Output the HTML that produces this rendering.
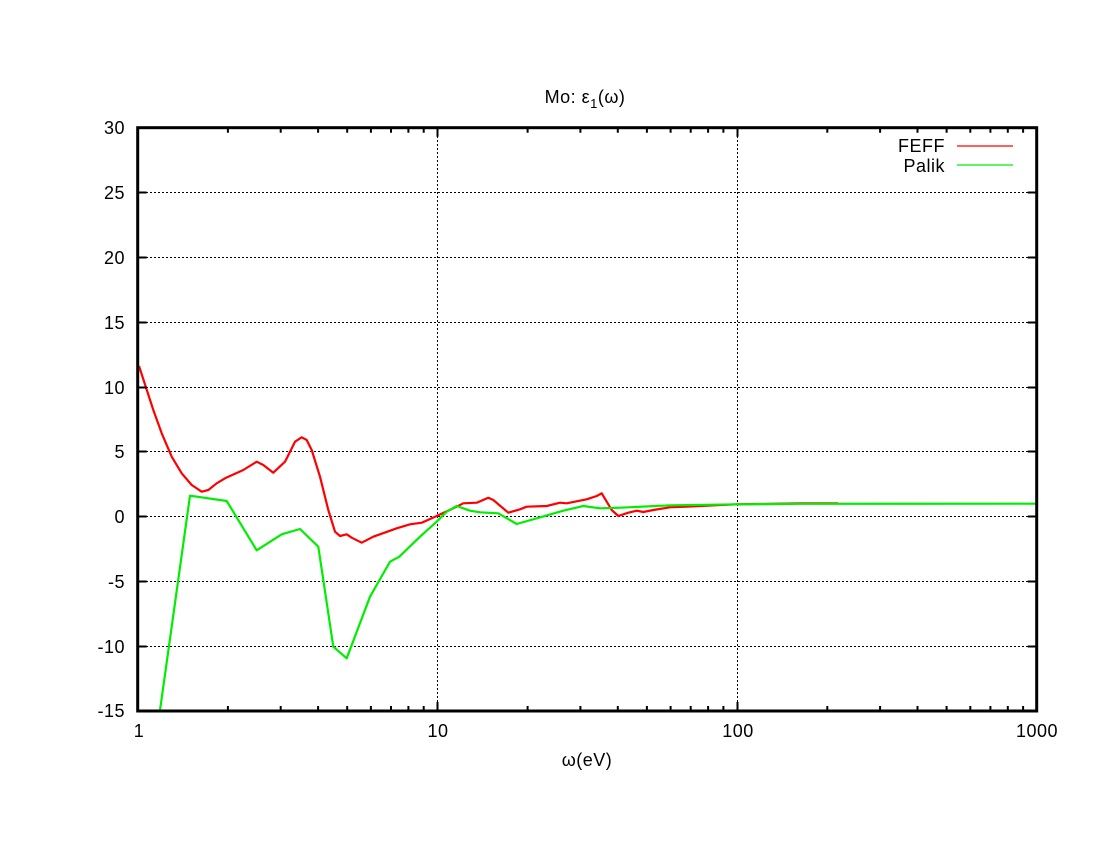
<!DOCTYPE html>
<html><head><meta charset="utf-8"><style>
html,body{margin:0;padding:0;background:#fff;}
svg{display:block;}
text{font-family:"Liberation Sans",Arial,sans-serif;font-size:18px;letter-spacing:0.5px;fill:#000;}
</style></head><body>
<svg width="1100" height="850" viewBox="0 0 1100 850" xmlns="http://www.w3.org/2000/svg">
<defs><clipPath id="pc"><rect x="137.7" y="127.7" width="899" height="583.3"/></clipPath></defs>
<rect width="1100" height="850" fill="#fff"/>
<!-- grid -->
<g stroke="#000" stroke-width="1" stroke-dasharray="2,2" fill="none">
<line x1="146" y1="192.5" x2="1028" y2="192.5"/>
<line x1="146" y1="257.5" x2="1028" y2="257.5"/>
<line x1="146" y1="322.5" x2="1028" y2="322.5"/>
<line x1="146" y1="387.5" x2="1028" y2="387.5"/>
<line x1="146" y1="451.5" x2="1028" y2="451.5"/>
<line x1="146" y1="516.5" x2="1028" y2="516.5"/>
<line x1="146" y1="581.5" x2="1028" y2="581.5"/>
<line x1="146" y1="646.5" x2="1028" y2="646.5"/>
<line x1="437.5" y1="136" x2="437.5" y2="702"/>
<line x1="737.5" y1="136" x2="737.5" y2="702"/>
</g>
<!-- curves -->
<g clip-path="url(#pc)" fill="none" stroke-width="2.2" stroke-linejoin="round">
<polyline stroke="#ff0000" points="139,366 153.3,410 161.7,433.3 171.7,456.7 181.7,473.3 191.7,485 201.7,491.7 208.3,490 216.7,483.3 225,478.3 243.3,470 256.7,461.7 263.3,465 273.3,472.7 285,461.7 295,441.7 301.7,437.3 306.7,440 311.7,450 320,476.7 328.3,510 335,531.7 340,536 346.7,534.3 351.7,537.7 361.7,542.7 373.3,536.7 396.7,528.3 410,524.3 421.7,522.7 436.7,516 453.3,508.3 463.3,503.3 476.7,502.7 488.3,497.7 493.3,500 508.3,512.7 520,509.3 526.7,506.7 546.7,506 560,502.7 566.7,503.3 586.7,499.3 596.7,496 601.7,493.3 611.7,510 618.3,516 628.3,512.7 636.7,510.7 643.3,512 653.3,510 670,507.3 686.7,506.7 720,505 737,504.3 760,504 800,503.4 838,503.3"/>
<polyline stroke="#00ee00" points="155,746 190,495.7 226.7,501 256.7,550.3 281.7,534.3 300,529 318.3,546.7 333.3,646.7 346.7,658.3 370,596.7 390,561.7 399.3,556.7 420,536.7 436.7,521.7 446.7,511.7 456.7,506 470,510.7 480,512.3 498.3,513.3 516.7,524 536.7,518.3 563.3,510.7 583.3,506 600,508.3 620,507.7 670,505.3 740,504.3 800,503.8 1036,503.7"/>
</g>
<!-- ticks -->
<g stroke="#000" stroke-width="2" fill="none">
<path d="M137.7,192.5h9M137.7,257.5h9M137.7,322.5h9M137.7,387.5h9M137.7,451.5h9M137.7,516.5h9M137.7,581.5h9M137.7,646.5h9"/>
<path d="M1036.7,192.5h-9M1036.7,257.5h-9M1036.7,322.5h-9M1036.7,387.5h-9M1036.7,451.5h-9M1036.7,516.5h-9M1036.7,581.5h-9M1036.7,646.5h-9"/>
<path d="M437.5,711v-9M737.5,711v-9M437.5,127.7v9M737.5,127.7v9"/>
<path d="M227.9,711v-5M280.7,711v-5M318.1,711v-5M347.2,711v-5M370.9,711v-5M391,711v-5M408.4,711v-5M423.7,711v-5
M527.6,711v-5M580.4,711v-5M617.8,711v-5M646.9,711v-5M670.6,711v-5M690.7,711v-5M708.1,711v-5M723.4,711v-5
M827.3,711v-5M880.1,711v-5M917.5,711v-5M946.6,711v-5M970.3,711v-5M990.4,711v-5M1007.8,711v-5M1023.1,711v-5"/>
<path d="M227.9,127.7v5M280.7,127.7v5M318.1,127.7v5M347.2,127.7v5M370.9,127.7v5M391,127.7v5M408.4,127.7v5M423.7,127.7v5
M527.6,127.7v5M580.4,127.7v5M617.8,127.7v5M646.9,127.7v5M670.6,127.7v5M690.7,127.7v5M708.1,127.7v5M723.4,127.7v5
M827.3,127.7v5M880.1,127.7v5M917.5,127.7v5M946.6,127.7v5M970.3,127.7v5M990.4,127.7v5M1007.8,127.7v5M1023.1,127.7v5"/>
</g>
<!-- frame -->
<rect x="137.7" y="127.7" width="899" height="583.3" fill="none" stroke="#000" stroke-width="3"/>
<!-- y labels -->
<g text-anchor="end">
<text x="125" y="134">30</text>
<text x="125" y="199">25</text>
<text x="125" y="264">20</text>
<text x="125" y="329">15</text>
<text x="125" y="394">10</text>
<text x="125" y="458">5</text>
<text x="125" y="523">0</text>
<text x="125" y="588">-5</text>
<text x="125" y="653">-10</text>
<text x="125" y="717">-15</text>
</g>
<!-- x labels -->
<g text-anchor="middle">
<text x="139" y="737">1</text>
<text x="438" y="737">10</text>
<text x="738" y="737">100</text>
<text x="1037" y="737">1000</text>
<text x="587" y="766">ω(eV)</text>
<text x="585" y="103">Mo: ε<tspan font-size="13" dy="5">1</tspan><tspan dy="-5">(ω)</tspan></text>
</g>
<!-- legend -->
<g text-anchor="end">
<text x="945" y="152">FEFF</text>
<text x="945" y="172">Palik</text>
</g>
<line x1="957" y1="146" x2="1013" y2="146" stroke="#ff0000" stroke-width="1.2"/>
<line x1="957" y1="165" x2="1013" y2="165" stroke="#00ee00" stroke-width="1.2"/>
</svg>
</body></html>
